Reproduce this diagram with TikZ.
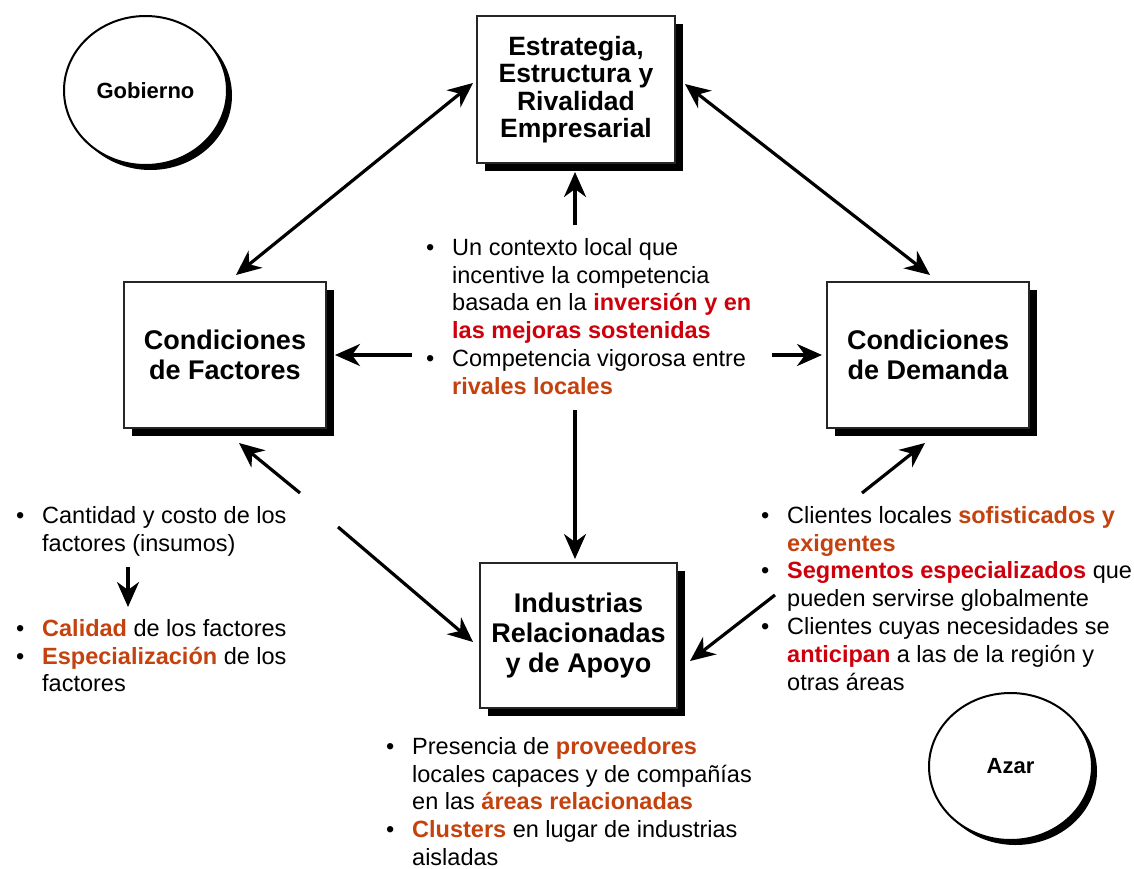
\documentclass[tikz,border=0pt]{standalone}
\usepackage{fontspec}
\setmainfont{Liberation Sans}
\usetikzlibrary{shapes.geometric,shadows,arrows.meta}
\definecolor{hired}{RGB}{206,0,12}
\definecolor{rust}{RGB}{196,66,14}
\newcommand\bul{\makebox[26pt][l]{\textbullet}}
\newcommand\ind{\hspace*{26pt}}
\newcommand\fst{\rule{0pt}{20pt}}
\newcommand\hr[1]{\textbf{\color{hired}#1}}
\newcommand\hy[1]{\textbf{\color{rust}#1}}
\begin{document}
\begin{tikzpicture}[x=1pt,y=-1pt,
  box/.style={draw=black!85,line width=1.4pt,fill=white,inner sep=0pt,align=center,
     font=\bfseries\fontsize{27}{30}\selectfont,
     drop shadow={shadow xshift=8pt,shadow yshift=-8pt,opacity=1,fill=black}},
  oval/.style={ellipse,draw=black,line width=2pt,fill=white,inner sep=0pt,
     font=\bfseries\fontsize{22}{26}\selectfont,
     drop shadow={shadow xshift=5pt,shadow yshift=-5pt,opacity=1,fill=black}},
  txt/.style={anchor=north west,inner sep=0pt,align=left,font=\fontsize{23.5}{27.8}\selectfont},
  arr/.style={line width=3.2pt,-{Stealth[length=25pt,width=22pt,inset=8pt]}},
  darr/.style={line width=3.2pt,{Stealth[length=25pt,width=22pt,inset=8pt]}-{Stealth[length=25pt,width=22pt,inset=8pt]}}
]
\useasboundingbox[fill=white] (0,0) rectangle (1134,869);

% boxes
\node[box, minimum width=198pt, minimum height=147pt, font=\bfseries\fontsize{26.5}{27.5}\selectfont] (E) at (576,89.5) {Estrategia,\\Estructura y\\Rivalidad\\Empresarial};
\node[box, minimum width=202pt, minimum height=146pt] (F) at (225,355) {Condiciones\\de Factores};
\node[box, minimum width=202pt, minimum height=146pt] (D) at (928,355) {Condiciones\\de Demanda};
\node[box, minimum width=197pt, minimum height=145pt] (I) at (578.5,635.5) {Industrias\\Relacionadas\\y de Apoyo};

% ovals
\node[oval, minimum width=163pt, minimum height=149pt] (G) at (145.5,90.5) {Gobierno};
\node[oval, minimum width=163pt, minimum height=147pt] (A) at (1010.5,766.5) {Azar};

% texts
\node[txt] (tc) at (426,235) {\bul\fst Un contexto local que\\ \ind incentive la competencia\\ \ind basada en la \hr{inversión y en}\\ \ind\hr{las mejoras sostenidas}\\ \bul Competencia vigorosa entre\\ \ind\hy{rivales locales}};
\node[txt] (tl1) at (16,503) {\bul\fst Cantidad y costo de los\\ \ind factores (insumos)};
\node[txt] (tl2) at (16,616) {\bul\fst\hy{Calidad} de los factores\\ \bul\hy{Especialización} de los\\ \ind factores};
\node[txt] (tr) at (761,503) {\bul\fst Clientes locales \hy{sofisticados y}\\ \ind\hy{exigentes}\\ \bul\hr{Segmentos especializados} que\\ \ind pueden servirse globalmente\\ \bul Clientes cuyas necesidades se\\ \ind\hr{anticipan} a las de la región y\\ \ind otras áreas};
\node[txt] (tb) at (386,734) {\bul\fst Presencia de \hy{proveedores}\\ \ind locales capaces y de compañías\\ \ind en las \hy{áreas relacionadas}\\ \bul\hy{Clusters} en lugar de industrias\\ \ind aisladas};

% arrow end points
\coordinate (e1) at (473,83);   \coordinate (f1) at (236,275);
\coordinate (e2) at (685,84);   \coordinate (d1) at (930,275);
\coordinate (c0) at (575,225);  \coordinate (e3) at (575,172);
\coordinate (c1) at (412,355);  \coordinate (f2) at (335,355);
\coordinate (c2) at (772,355);  \coordinate (d2) at (822,355);
\coordinate (c3) at (575,410);  \coordinate (i1) at (575,559);
\coordinate (l0) at (300,493);  \coordinate (f3) at (239,443);
\coordinate (l1) at (338,527);  \coordinate (i2) at (473,642);
\coordinate (r0) at (862,493);  \coordinate (d3) at (925,443);
\coordinate (r1) at (775,595);  \coordinate (i3) at (690,661);
\coordinate (s0) at (128,567);  \coordinate (s1) at (128,607);

\draw[darr] (f1) -- (e1);
\draw[darr] (e2) -- (d1);
\draw[arr] (c0) -- (e3);
\draw[arr] (c1) -- (f2);
\draw[arr] (c2) -- (d2);
\draw[arr] (c3) -- (i1);
\draw[arr] (l0) -- (f3);
\draw[arr] (l1) -- (i2);
\draw[arr] (r0) -- (d3);
\draw[arr] (r1) -- (i3);
\draw[arr] (s0) -- (s1);
\end{tikzpicture}
\end{document}
